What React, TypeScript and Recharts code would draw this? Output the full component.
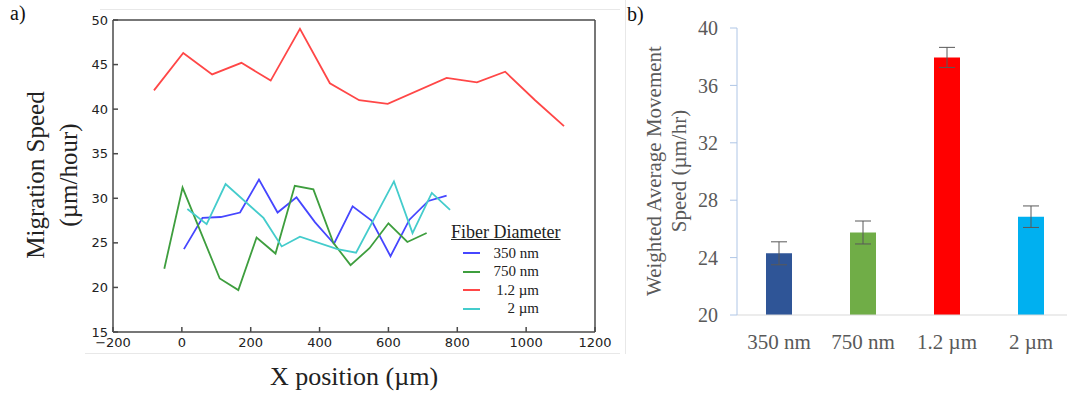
import React from "react";
import {
  LineChart,
  Line,
  XAxis,
  YAxis,
  Legend,
  BarChart,
  Bar,
  ErrorBar,
  Cell,
} from "recharts";

// panel a: migration speed vs x position
const xTicks = [-200, 0, 200, 400, 600, 800, 1000, 1200];
const yTicksA = [15, 20, 25, 30, 35, 40, 45, 50];

const x350 = [6, 60, 113, 169, 224, 278, 333, 387, 442, 496, 551, 606, 661, 716, 769];
const y350 = [24.3, 27.8, 27.9, 28.4, 32.1, 28.4, 30.1, 27.3, 24.9, 29.1, 27.5, 23.5, 27.6, 29.7, 30.3];

const x750 = [-51, 2, 110, 164, 217, 272, 328, 382, 440, 490, 545, 600, 655, 711];
const y750 = [22.1, 31.2, 21.0, 19.7, 25.6, 23.8, 31.4, 31.0, 25.0, 22.5, 24.4, 27.2, 25.1, 26.1];

const x1200 = [-81, 4, 88, 173, 258, 343, 430, 515, 598, 769, 857, 939, 1026, 1110];
const y1200 = [42.1, 46.3, 43.9, 45.2, 43.2, 49.0, 42.9, 41.0, 40.6, 43.5, 43.0, 44.2, 41.0, 38.1];

const x2000 = [16, 72, 127, 237, 290, 343, 452, 506, 616, 670, 726, 779];
const y2000 = [28.8, 27.1, 31.6, 27.8, 24.6, 25.7, 24.3, 23.9, 31.9, 26.1, 30.6, 28.7];

// panel b: weighted average speed
const categories = ["350 nm", "750 nm", "1.2 µm", "2 µm"];
const speeds = [24.3, 25.75, 37.95, 26.85];
const errors = [0.8, 0.8, 0.7, 0.75];
const barColors = ["#2F5597", "#70AD47", "#FF0000", "#00B0F0"];
const yTicksB = [20, 24, 28, 32, 36, 40];

const zip = (xs: number[], ys: number[]) => xs.map((x, i) => ({ x, y: ys[i] }));

// the 1.2 µm line sits on the top/right axes so the full frame gets drawn
const series = [
  { name: "350 nm", color: "#4646FF", data: zip(x350, y350), xId: "b", yId: "l" },
  { name: "750 nm", color: "#3E9E3E", data: zip(x750, y750), xId: "b", yId: "l" },
  { name: "1.2 µm", color: "#FF4747", data: zip(x1200, y1200), xId: "t", yId: "r" },
  { name: "2 µm", color: "#44CCCC", data: zip(x2000, y2000), xId: "b", yId: "l" },
];
const order = series.map((s) => s.name);

const barData = categories.map((name, i) => ({ name, speed: speeds[i], err: errors[i] }));

const serif = "'Liberation Serif', 'Times New Roman', serif";
const sans = "'DejaVu Sans', sans-serif";
const frame = "#4a4a4a";

const renderLegend = (props: any) => {
  const payload = [...(props.payload || [])].sort(
    (a: any, b: any) => order.indexOf(a.value) - order.indexOf(b.value)
  );
  return (
    <div style={{ fontFamily: serif, color: "#222", width: 122 }}>
      <div style={{ fontSize: 18, textDecoration: "underline", marginBottom: 1 }}>Fiber Diameter</div>
      {payload.map((p: any) => (
        <div key={p.value} style={{ display: "flex", alignItems: "center", height: 18.5, fontSize: 15 }}>
          <span style={{ display: "inline-block", width: 17, height: 2, background: p.color, marginLeft: 12 }} />
          <span style={{ flex: 1, textAlign: "right", paddingRight: 34 }}>{p.value}</span>
        </div>
      ))}
    </div>
  );
};

const App = () => {
  return (
    <div style={{ position: "absolute", left: 0, top: 0, width: 1067, height: 394, background: "#fff", overflow: "hidden" }}>
      <div style={{ position: "absolute", left: 100, top: 9, width: 520, height: 1, background: "#e8e8e8" }} />
      <div style={{ position: "absolute", left: 85, top: 353, width: 535, height: 1, background: "#e8e8e8" }} />
      <div style={{ position: "absolute", left: 625, top: 0, width: 1, height: 354, background: "#e8e8e8" }} />

      <div style={{ position: "absolute", left: 10, top: 2, fontFamily: serif, fontSize: 20, color: "#111" }}>a)</div>
      <div style={{ position: "absolute", left: 627, top: 3, fontFamily: serif, fontSize: 20, color: "#111" }}>b)</div>

      <div style={{ position: "absolute", left: 0, top: 0 }}>
        <LineChart width={620} height={394} margin={{ top: 19, right: 24, bottom: 32, left: 73 }}>
          <XAxis
            xAxisId="b"
            dataKey="x"
            type="number"
            domain={[-200, 1200]}
            ticks={xTicks}
            allowDataOverflow
            height={30}
            stroke={frame}
            strokeWidth={1.5}
            tickSize={-5}
            tickMargin={11}
            tick={{ fill: "#222", fontSize: 13, fontFamily: sans }}
            tickFormatter={(v: number) => (v < 0 ? "\u2212" + Math.abs(v) : String(v))}
          />
          <XAxis
            xAxisId="t"
            dataKey="x"
            orientation="top"
            type="number"
            domain={[-200, 1200]}
            ticks={xTicks}
            allowDataOverflow
            height={1}
            stroke={frame}
            strokeWidth={1.5}
            tickSize={-5}
            tick={false}
          />
          <YAxis
            yAxisId="l"
            type="number"
            domain={[15, 50]}
            ticks={yTicksA}
            allowDataOverflow
            width={40}
            stroke={frame}
            strokeWidth={1.5}
            tickSize={-5}
            tickMargin={10}
            tick={{ fill: "#222", fontSize: 13, fontFamily: sans }}
          />
          <YAxis
            yAxisId="r"
            orientation="right"
            type="number"
            domain={[15, 50]}
            ticks={yTicksA}
            allowDataOverflow
            width={1}
            stroke={frame}
            strokeWidth={1.5}
            tickSize={-5}
            tick={false}
          />
          {series.map((s) => (
            <Line
              key={s.name}
              xAxisId={s.xId}
              yAxisId={s.yId}
              data={s.data}
              dataKey="y"
              name={s.name}
              type="linear"
              stroke={s.color}
              strokeWidth={1.8}
              dot={false}
              isAnimationActive={false}
            />
          ))}
          <Legend
            layout="horizontal"
            align="center"
            verticalAlign="middle"
            content={renderLegend}
            wrapperStyle={{ left: 451, top: 222, width: 125 }}
          />
        </LineChart>
      </div>

      <div
        style={{
          position: "absolute",
          left: 52 - 130,
          top: 175 - 33,
          width: 260,
          height: 66,
          lineHeight: "33px",
          textAlign: "center",
          fontFamily: serif,
          fontSize: 25,
          color: "#222",
          transform: "rotate(-90deg)",
        }}
      >
        Migration Speed
        <br />
        (µm/hour)
      </div>
      <div
        style={{
          position: "absolute",
          left: 354 - 150,
          top: 362,
          width: 300,
          textAlign: "center",
          fontFamily: serif,
          fontSize: 26,
          color: "#222",
        }}
      >
        X position (µm)
      </div>

      <div style={{ position: "absolute", left: 620, top: 0, width: 447, height: 394, overflow: "hidden" }}>
        <BarChart width={453} height={394} data={barData} margin={{ top: 28, right: 0, bottom: 49, left: 0 }}>
          <XAxis
            dataKey="name"
            height={30}
            stroke="#D9D9D9"
            tickLine={false}
            tickSize={0}
            tickMargin={19}
            tick={{ fill: "#595959", fontSize: 21, fontFamily: serif }}
          />
          <YAxis
            type="number"
            domain={[20, 40]}
            ticks={yTicksB}
            width={117}
            stroke="#AFC6E6"
            tickSize={7}
            tickMargin={12}
            tick={{ fill: "#595959", fontSize: 20, fontFamily: serif }}
          />
          <Bar dataKey="speed" barSize={26} isAnimationActive={false}>
            {barData.map((d, i) => (
              <Cell key={d.name} fill={barColors[i]} />
            ))}
            <ErrorBar dataKey="err" width={8} stroke="#595959" strokeWidth={1} />
          </Bar>
        </BarChart>
      </div>

      <div
        style={{
          position: "absolute",
          left: 667 - 150,
          top: 171 - 25,
          width: 300,
          height: 50,
          lineHeight: "25px",
          textAlign: "center",
          fontFamily: serif,
          fontSize: 21,
          color: "#595959",
          transform: "rotate(-90deg)",
        }}
      >
        Weighted Average Movement
        <br />
        Speed (µm/hr)
      </div>
    </div>
  );
};

export default App;
